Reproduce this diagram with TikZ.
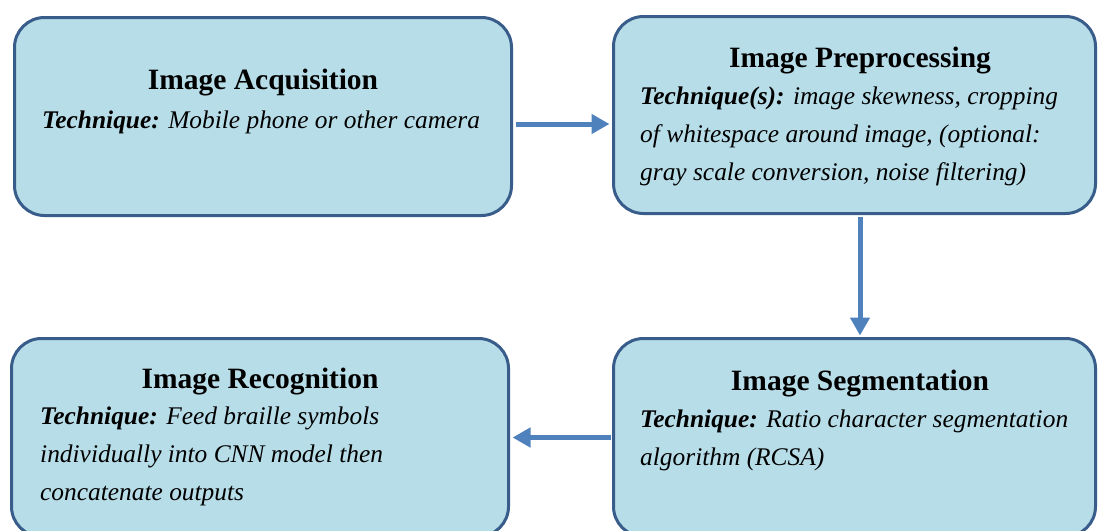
\documentclass[tikz,border=0pt]{standalone}
\usepackage{fontspec}
\setmainfont{Liberation Serif}
\usetikzlibrary{arrows.meta}
\definecolor{stageFill}{RGB}{183,221,232}
\definecolor{stageLine}{RGB}{56,93,138}
\definecolor{flowBlue}{RGB}{79,129,189}
\tikzset{
  stagebox/.style={rectangle, rounded corners=30pt, draw=stageLine, fill=stageFill,
                   line width=3pt, inner sep=0pt},
  stagetitle/.style={anchor=base, inner sep=0pt,
                     font=\fontsize{29.5}{35}\selectfont\bfseries},
  stagetext/.style={anchor=north west, inner sep=0pt, align=left,
                    font=\fontsize{25.4}{38}\selectfont\itshape},
  flowarrow/.style={-{Triangle[length=18pt,width=19pt]}, line width=5pt, flowBlue},
}
\newcommand{\tech}[1]{{\bfseries #1}}

\begin{document}
\begin{tikzpicture}[x=1pt, y=-1pt]
  \useasboundingbox (0,0) rectangle (1099,530);
  \clip (0,0) rectangle (1099,530);
  % stage boxes
  \node[stagebox, minimum width=497pt, minimum height=198pt] (acq)  at (263,116.5)   {};
  \node[stagebox, minimum width=482pt, minimum height=197pt] (prep) at (854.5,115)   {};
  \node[stagebox, minimum width=482pt, minimum height=198pt] (seg)  at (854.5,437.5) {};
  \node[stagebox, minimum width=497pt, minimum height=198pt] (rec)  at (260,437.5)   {};
  % texts
  \node[stagetitle] (acqT)  at (263,89)  {Image Acquisition};
  \node[stagetext]  (acqD)  at (42,111)  {\tech{Technique:} Mobile phone or other camera};
  \node[stagetitle] (prepT) at (860,67)  {Image Preprocessing};
  \node[stagetext]  (prepD) at (640,87)  {\tech{Technique(s):} image skewness, cropping\\
                                          of whitespace around image, (optional:\\
                                          gray scale conversion, noise filtering)};
  \node[stagetitle] (segT)  at (860,390) {Image Segmentation};
  \node[stagetext]  (segD)  at (640,410) {\tech{Technique:} Ratio character segmentation\\
                                          algorithm (RCSA)};
  \node[stagetitle] (recT)  at (260,388) {Image Recognition};
  \node[stagetext]  (recD)  at (40,407)  {\tech{Technique:} Feed braille symbols\\
                                          individually into CNN model then\\
                                          concatenate outputs};
  % flow
  \draw[flowarrow, shorten <=3pt, shorten >=2.5pt]
    ([yshift=-7.5pt]acq.east) -- ([yshift=-7.5pt]acq.east -| prep.west);
  \draw[flowarrow, shorten <=1.5pt, shorten >=1.5pt]
    ([xshift=5.5pt]prep.south) -- ([xshift=5.5pt]seg.north);
  \draw[flowarrow, shorten <=1.5pt, shorten >=2.5pt]
    (seg.west) -- (rec.east);
\end{tikzpicture}
\end{document}
